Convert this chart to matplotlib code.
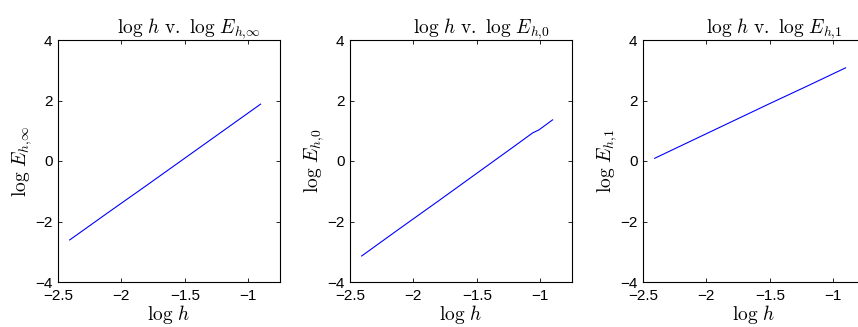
import numpy as np
import matplotlib.pyplot as plt

plt.rcParams["mathtext.fontset"] = "cm"
plt.rcParams["font.family"] = ["Liberation Sans", "DejaVu Sans"]

# values
log_h = [-2.408, -2.107, -1.806, -1.505, -1.204, -0.903]
log_E_inf = [-2.61, -1.71, -0.82, 0.08, 0.98, 1.88]

log_h_0 = [-2.408, -2.107, -1.806, -1.505, -1.204, -1.06, -1.01, -0.903]
log_E_0 = [-3.14, -2.23, -1.33, -0.42, 0.49, 0.93, 1.03, 1.36]

log_E_1 = [0.09, 0.69, 1.29, 1.89, 2.48, 3.08]

panels = [
    (log_h, log_E_inf, r"\infty", 58),
    (log_h_0, log_E_0, r"0", 350),
    (log_h, log_E_1, r"1", 643),
]

W, H = 858, 327
fig = plt.figure(figsize=(W / 100, H / 100), dpi=100)

for x, y, sub, left in panels:
    ax = fig.add_axes([left / W, (H - 282) / H, 222 / W, 242 / H])
    ax.plot(x, y, color="#0000ff", lw=0.8)
    ax.set_xlim(-2.5, -0.75)
    ax.set_ylim(-4, 4)
    ax.set_xticks([-2.5, -2, -1.5, -1])
    ax.set_xticklabels(["\u22122.5", "\u22122", "\u22121.5", "\u22121"])
    ax.set_yticks([-4, -2, 0, 2, 4])
    ax.set_yticklabels(["\u22124", "\u22122", "0", "2", "4"])
    ax.tick_params(direction="in", length=3, width=0.6, labelsize=11,
                   top=True, right=True)
    ax.tick_params(axis="x", pad=5)
    ax.tick_params(axis="y", pad=4)
    for s in ax.spines.values():
        s.set_linewidth(0.8)
    ax.set_xlabel(r"$\log\,h$", fontsize=14, labelpad=0)
    ax.set_ylabel(r"$\log\,E_{h{,}%s}$" % sub, fontsize=14, labelpad=1)
    ax.set_title(r"$\log\,h\ \mathrm{v.}\ \log\,E_{h{,}%s}$" % sub, fontsize=14,
                 x=0.59, pad=5)

fig.savefig("out.png", dpi=100)
